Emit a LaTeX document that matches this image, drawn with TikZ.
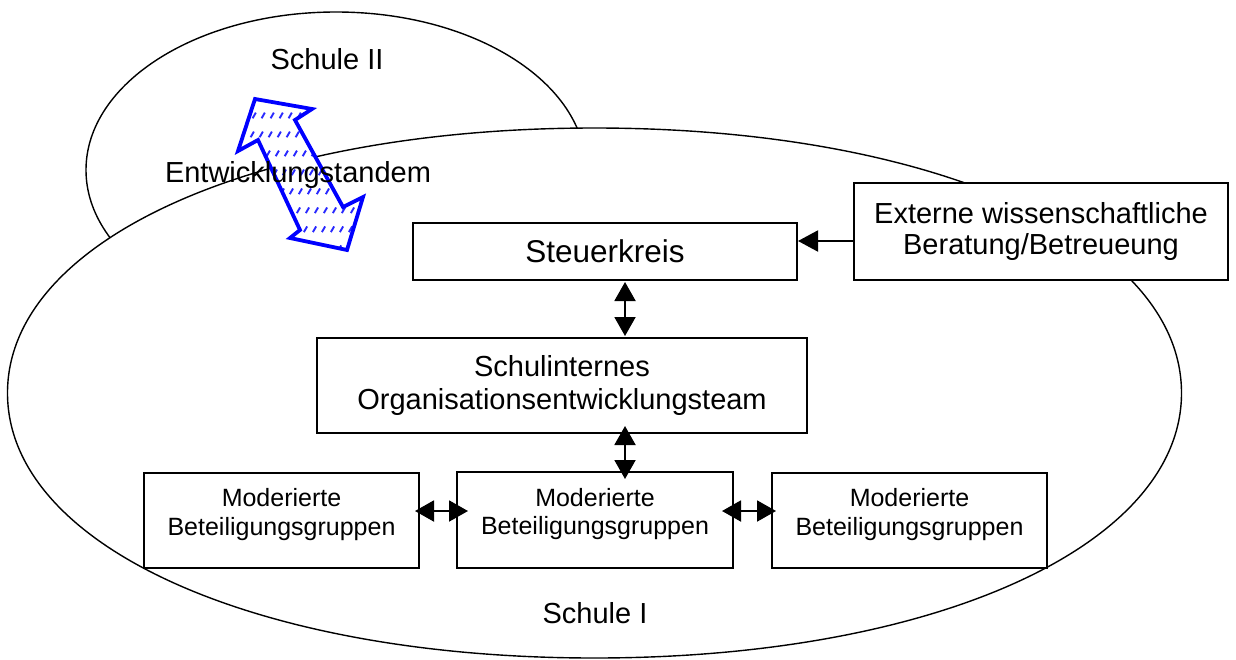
\documentclass[tikz,border=0pt]{standalone}
\usepackage{fontspec}
\setmainfont{Liberation Sans}
\usetikzlibrary{arrows.meta,calc}

\begin{document}
\begin{tikzpicture}[x=1pt,y=-1pt,
  region/.style={draw=black, line width=1.4pt, fill=white},
  box/.style={draw=black, line width=2pt, fill=white, rectangle, inner sep=0pt, align=center},
  modbox/.style={box, minimum width=275pt, minimum height=95pt},
  modtext/.style={align=center, font=\fontsize{25}{28.5}\selectfont},
  bigtext/.style={font=\fontsize{29}{33}\selectfont},
  both/.style={line width=2pt, {Triangle[length=19pt,width=21pt]}-{Triangle[length=19pt,width=21pt]}},
  onto/.style={line width=2pt, -{Triangle[length=20pt,width=21pt]}},
  tandem/.style={draw={rgb,255:red,0;green,0;blue,255}, line width=3.8pt, line join=miter},
  hatch/.style={draw={rgb,255:red,40;green,40;blue,255}, line width=1.9pt, dash pattern=on 6.5pt off 15.4pt}
]
\useasboundingbox (0,0) rectangle (1236,659);

% Schule II (partly hidden behind Schule I)
\draw[region] (336,170) ellipse [x radius=250, y radius=158];

% Schule I, drawn as a slightly full ellipse
\def\cx{594.5}\def\cy{393}\def\rx{587}\def\ry{265}\def\kk{0.578}
\draw[region]
  (\cx+\rx,\cy)
  .. controls (\cx+\rx,\cy+\kk*\ry) and (\cx+\kk*\rx,\cy+\ry) .. (\cx,\cy+\ry)
  .. controls (\cx-\kk*\rx,\cy+\ry) and (\cx-\rx,\cy+\kk*\ry) .. (\cx-\rx,\cy)
  .. controls (\cx-\rx,\cy-\kk*\ry) and (\cx-\kk*\rx,\cy-\ry) .. (\cx,\cy-\ry)
  .. controls (\cx+\kk*\rx,\cy-\ry) and (\cx+\rx,\cy-\kk*\ry) .. (\cx+\rx,\cy)
  -- cycle;

% Entwicklungstandem: hatched double block arrow
\begin{scope}
  \clip (255,99) -- (312,109) -- (295,120) -- (343,207) -- (363,197)
        -- (347,250) -- (290,238) -- (300,230) -- (258,140) -- (238,151) -- cycle;
  \fill[white] (220,80) rectangle (380,260);
  \foreach \k in {0,...,30}
    \draw[hatch] ({120+9*\k},270) -- ++(100,-173.2);
\end{scope}
\draw[tandem] (255,99) -- (312,109) -- (295,120) -- (343,207) -- (363,197)
        -- (347,250) -- (290,238) -- (300,230) -- (258,140) -- (238,151) -- cycle;

% region labels
\node[bigtext, anchor=base] (s2) at (327,69) {Schule II};
\node[bigtext, anchor=base] (tand) at (298,182) {Entwicklungstandem};
\node[bigtext, anchor=base] (s1) at (595,623) {Schule I};

% boxes
\node[box, minimum width=384pt, minimum height=57pt, font=\fontsize{31.5}{36}\selectfont]
  (steuer) at (605,251.5) {Steuerkreis};
\node[box, minimum width=374pt, minimum height=97pt, font=\fontsize{29}{31.5}\selectfont]
  (ext) at (1041,231.5) {Externe wissenschaftliche\\Beratung/Betreueung};
\node[box, minimum width=490pt, minimum height=95pt, font=\fontsize{29}{33}\selectfont]
  (schul) at (562,385.5) {Schulinternes\\Organisationsentwicklungsteam};
\node[modbox, label={[modtext, yshift=6pt]center:Moderierte\\Beteiligungsgruppen}]
  (mod1) at (281.5,520.5) {};
\node[modbox, minimum width=276pt, minimum height=96pt,
      label={[modtext, yshift=6pt]center:Moderierte\\Beteiligungsgruppen}]
  (mod2) at (595,520) {};
\node[modbox, label={[modtext, yshift=6pt]center:Moderierte\\Beteiligungsgruppen}]
  (mod3) at (909.5,520.5) {};

% connectors
\coordinate (axis) at (625,0);
\draw[onto] ([yshift=-9.5pt]ext.west) -- ([yshift=10.5pt]steuer.east);
\draw[both] ([yshift=-1pt]steuer.south -| axis) -- ([yshift=1pt]schul.north -| axis);
\draw[both] ([yshift=8pt]schul.south -| axis) -- ([yshift=-8pt]mod2.north -| axis);
\draw[both] ([xshift=-5pt,yshift=9.5pt]mod1.east) -- ([xshift=12pt,yshift=9pt]mod2.west);
\draw[both] ([xshift=-12pt,yshift=9pt]mod2.east) -- ([xshift=5pt,yshift=9.5pt]mod3.west);
\end{tikzpicture}
\end{document}
